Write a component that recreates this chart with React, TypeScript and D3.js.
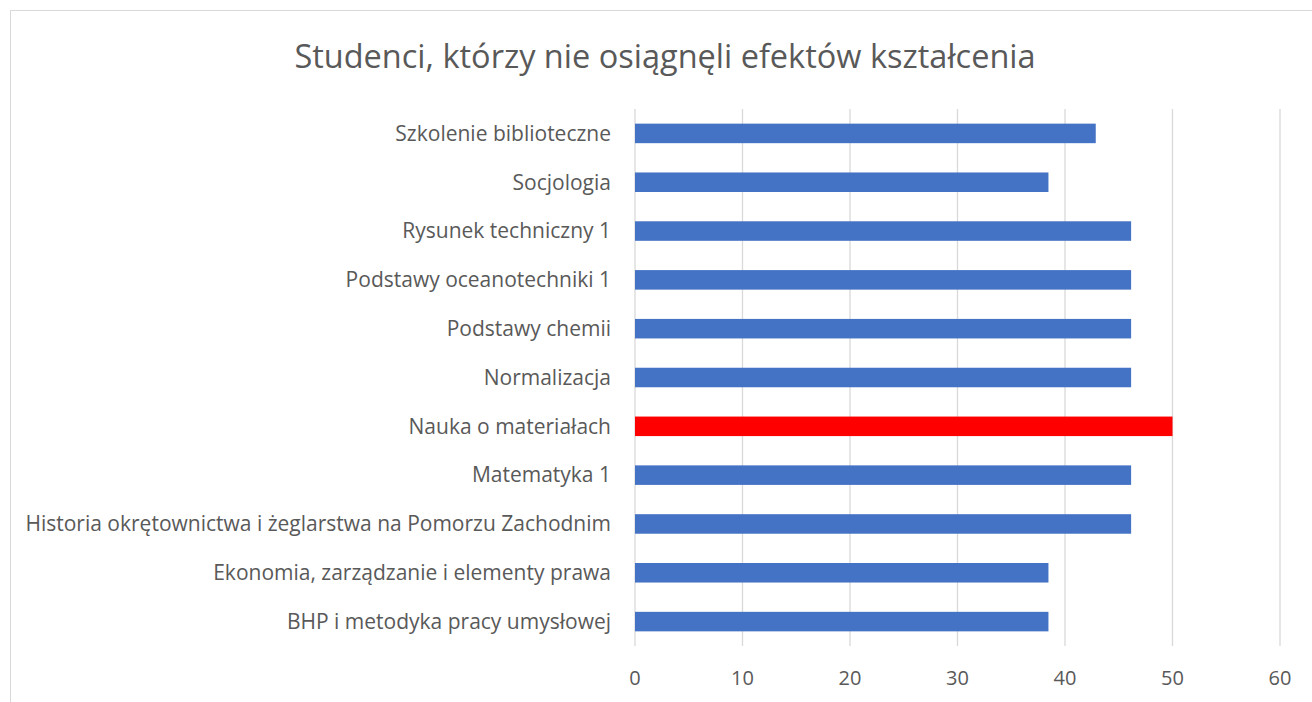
import React, { useEffect, useRef } from 'react';
import * as d3 from 'd3';

// Categories listed top to bottom, as in the reference
const categories = [
  'Szkolenie biblioteczne',
  'Socjologia',
  'Rysunek techniczny 1',
  'Podstawy oceanotechniki 1',
  'Podstawy chemii',
  'Normalizacja',
  'Nauka o materiałach',
  'Matematyka 1',
  'Historia okrętownictwa i żeglarstwa na Pomorzu Zachodnim',
  'Ekonomia, zarządzanie i elementy prawa',
  'BHP i metodyka pracy umysłowej',
];
const values = [42.86, 38.46, 46.15, 46.15, 46.15, 46.15, 50, 46.15, 46.15, 38.46, 38.46];
const highlighted = ['Nauka o materiałach'];
const xTicks = [0, 10, 20, 30, 40, 50, 60];
const title = 'Studenci, którzy nie osiągnęli efektów kształcenia';

const W = 1312;
const H = 702;

const App: React.FC = () => {
  const svgRef = useRef<SVGSVGElement>(null);

  useEffect(() => {
    if (!svgRef.current) return;
    const svg = d3.select(svgRef.current);
    svg.selectAll('*').remove();

    const font = '"Open Sans", Lato, sans-serif';
    const textColor = '#595959';
    const plot = { left: 635, right: 1280, top: 109, bottom: 646 };

    // chart frame
    svg.append('rect')
      .attr('x', 10.5).attr('y', 10.5)
      .attr('width', W + 20).attr('height', H + 20)
      .attr('fill', '#fff').attr('stroke', '#d9d9d9');

    const x = d3.scaleLinear().domain([0, 60]).range([plot.left, plot.right]);
    const y = d3.scaleBand<string>().domain(categories).range([plot.top, plot.bottom]).paddingInner(0.6).paddingOuter(0.3);

    // gridlines
    svg.append('g')
      .selectAll('line')
      .data(xTicks)
      .enter().append('line')
      .attr('x1', d => x(d)).attr('x2', d => x(d))
      .attr('y1', plot.top).attr('y2', plot.bottom)
      .attr('stroke', '#d9d9d9').attr('stroke-width', 1.3);

    // bars
    svg.append('g')
      .selectAll('rect')
      .data(categories)
      .enter().append('rect')
      .attr('x', x(0))
      .attr('y', d => y(d)!)
      .attr('width', (d, i) => x(values[i]) - x(0))
      .attr('height', y.bandwidth())
      .attr('fill', d => (highlighted.includes(d) ? '#ff0000' : '#4472c4'));

    // category labels
    svg.append('g')
      .selectAll('text')
      .data(categories)
      .enter().append('text')
      .attr('x', plot.left - 24)
      .attr('y', d => y(d)! + y.bandwidth() / 2)
      .attr('dy', '0.35em')
      .attr('text-anchor', 'end')
      .attr('font-family', font)
      .attr('font-size', 21)
      .attr('fill', textColor)
      .text(d => d);

    // x tick labels
    svg.append('g')
      .selectAll('text')
      .data(xTicks)
      .enter().append('text')
      .attr('x', d => x(d))
      .attr('y', 678)
      .attr('dy', '0.35em')
      .attr('text-anchor', 'middle')
      .attr('font-family', font)
      .attr('font-size', 20)
      .attr('fill', textColor)
      .text(d => d);

    // title
    svg.append('text')
      .attr('x', 665)
      .attr('y', 57)
      .attr('dy', '0.35em')
      .attr('text-anchor', 'middle')
      .attr('font-family', font)
      .attr('font-size', 32.5)
      .attr('fill', textColor)
      .text(title);
  }, []);

  return (
    <svg
      ref={svgRef}
      width={W}
      height={H}
      style={{ position: 'absolute', left: 0, top: 0, display: 'block' }}
    />
  );
};

export default App;
